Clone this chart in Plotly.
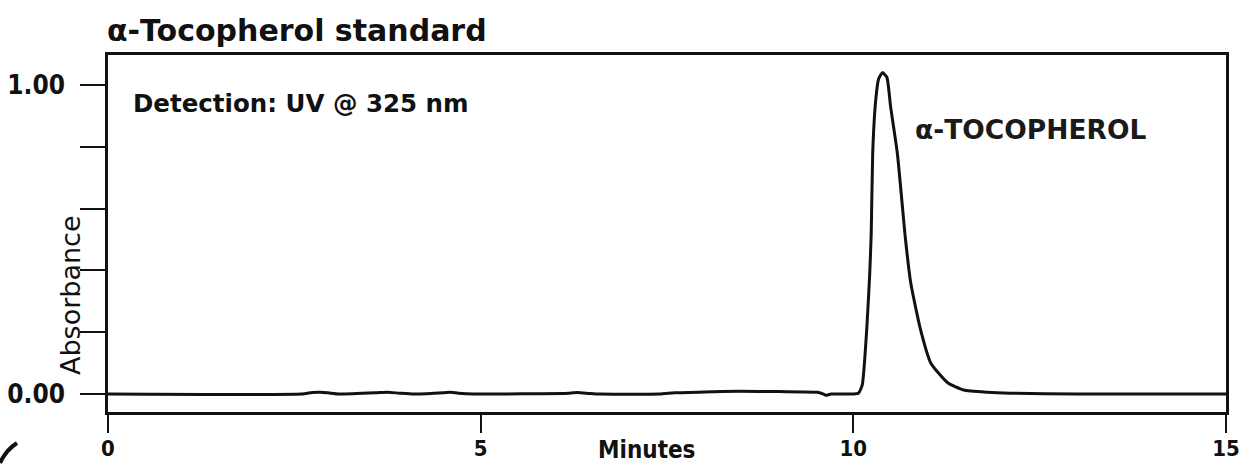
import plotly.graph_objects as go

# Chromatogram trace: retention time (min) vs absorbance (AU)
time_min = [0.0, 2.60, 2.74, 2.85, 2.95, 3.10, 3.59, 3.75, 3.91, 4.10, 4.50, 4.60,
            4.70, 4.90, 6.19, 6.30, 6.46, 6.60, 7.40, 7.60, 8.00, 8.47, 9.00, 9.52,
            9.60, 9.63, 9.70, 10.00, 10.07, 10.12, 10.18, 10.22, 10.24, 10.26, 10.30,
            10.34, 10.39, 10.45, 10.50, 10.59, 10.70, 10.77, 10.90, 11.04, 11.27,
            11.48, 11.80, 12.11, 13.00, 15.00]
absorbance = [0.0, 0.0, 0.005, 0.006, 0.004, 0.0, 0.004, 0.006, 0.003, 0.0, 0.004, 0.006,
              0.003, 0.0, 0.003, 0.005, 0.002, 0.0, 0.0, 0.004, 0.007, 0.009, 0.008, 0.006,
              0.0, -0.004, 0.0, 0.0, 0.003, 0.03, 0.21, 0.39, 0.52, 0.78, 0.95,
              1.02, 1.04, 1.025, 0.93, 0.78, 0.50, 0.36, 0.21, 0.10, 0.036,
              0.013, 0.006, 0.003, 0.0, 0.0]

xtick_values = [0, 5, 10, 15]
xtick_labels = ["0", "5", "10", "15"]
ytick_values = [0.0, 0.2, 0.4, 0.6, 0.8, 1.0]
ytick_labels = ["0.00", "", "", "", "", "1.00"]

peak_label = "α-TOCOPHEROL"
chart_title = "α-Tocopherol standard"
detection_note = "Detection: UV @ 325 nm"

W, H = 1242, 465
L, R, T, B = 108, 16, 55, 53
plot_w = W - L - R
plot_h = H - T - B


def px(x):
    return (x - L) / plot_w


def py(y):
    return (H - B - y) / plot_h


narrow = "Liberation Sans Narrow, DejaVu Sans Condensed, Arial Narrow, DejaVu Sans, sans-serif"
wide = "DejaVu Sans, Verdana, sans-serif"

fig = go.Figure()
fig.add_trace(go.Scatter(
    x=time_min, y=absorbance, mode="lines",
    line=dict(color="#111111", width=3, shape="spline", smoothing=0.5),
    hoverinfo="skip", showlegend=False,
))

fig.update_layout(
    width=W, height=H,
    margin=dict(l=L, r=R, t=T, b=B, autoexpand=False),
    paper_bgcolor="white", plot_bgcolor="white",
    xaxis=dict(
        range=[0, 15], showgrid=False, zeroline=False, automargin=False,
        showline=True, mirror=True, linecolor="#111111", linewidth=2.5,
        ticks="outside", ticklen=18, tickwidth=2, tickcolor="#111111",
        tickvals=xtick_values, ticktext=xtick_labels,
        ticklabelstandoff=-3,
        tickfont=dict(family=narrow, size=22, color="#111111", weight="bold"),
    ),
    yaxis=dict(
        range=[-0.058, 1.097], showgrid=False, zeroline=False, automargin=False,
        showline=True, mirror=True, linecolor="#111111", linewidth=2.5,
        ticks="outside", ticklen=25, tickwidth=2, tickcolor="#111111",
        tickvals=ytick_values, ticktext=ytick_labels,
        ticklabelstandoff=10,
        tickfont=dict(family=narrow, size=26, color="#111111", weight="bold"),
    ),
)

annotations = [
    dict(text=chart_title, x=px(105), y=py(30), xanchor="left", yanchor="middle",
         font=dict(family=wide, size=30, color="#111111", weight="bold")),
    dict(text=detection_note, x=px(131), y=py(104), xanchor="left", yanchor="middle",
         font=dict(family=wide, size=24.5, color="#111111", weight="bold")),
    dict(text=peak_label, x=px(913), y=py(129), xanchor="left", yanchor="middle",
         font=dict(family=wide, size=26.5, color="#1a1a1a", weight="bold")),
    dict(text="Absorbance", x=px(70), y=py(295), xanchor="center", yanchor="middle",
         textangle=-90,
         font=dict(family=wide, size=27, color="#111111")),
    dict(text="Minutes", x=px(646), y=py(450), xanchor="center", yanchor="middle",
         font=dict(family=narrow, size=24, color="#111111", weight="bold")),
]
for a in annotations:
    a.update(xref="paper", yref="paper", showarrow=False)
fig.update_layout(annotations=annotations)

# dark rounded corner of the frame at the lower left
fig.add_shape(type="path", xref="paper", yref="paper",
              path=f"M {px(0)},{py(463)} Q {px(6)},{py(450)} {px(17)},{py(443)}",
              line=dict(color="#111111", width=4))

fig.write_html("out.html")
